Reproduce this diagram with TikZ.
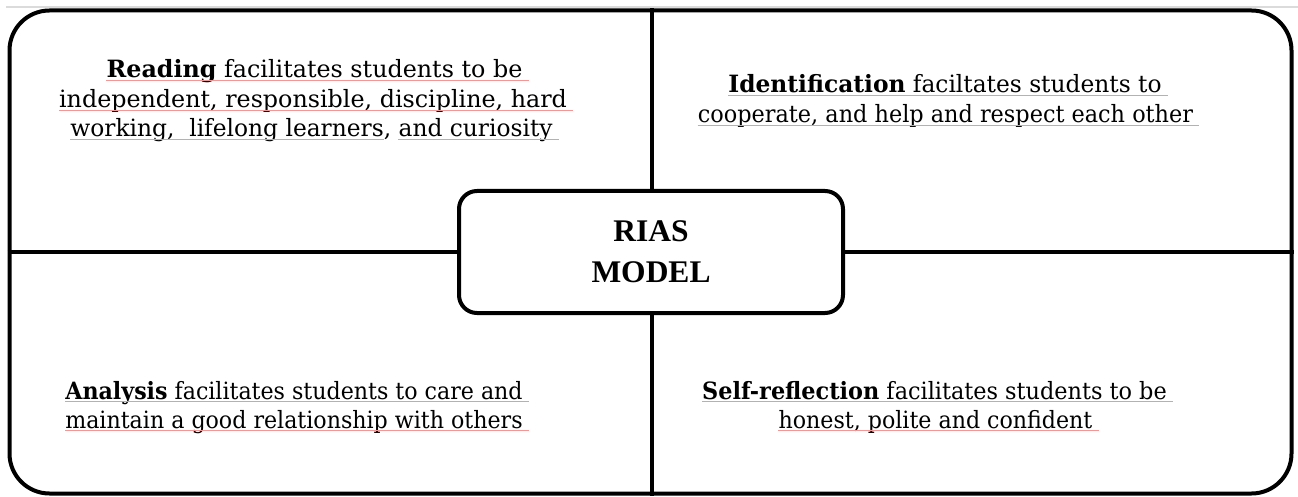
\documentclass[tikz,border=0pt]{standalone}
\usepackage{graphicx}
\usepackage{fontspec}
\setmainfont{DejaVu Serif}
\newfontfamily\timesfam{Liberation Serif}
\definecolor{spellred}{RGB}{242,150,150}
\newcommand\bodyfont{\fontsize{23.8}{28}\selectfont}
\newcommand\hs[2]{\scalebox{#1}[1]{#2}}
\newlength\wpartA
\newlength\wpartB
\begin{document}
\settowidth\wpartA{\bodyfont working,\ \ lifelong learners}
\settowidth\wpartB{\bodyfont working,\ \ lifelong learners, }
\setlength\wpartA{0.98\wpartA}
\setlength\wpartB{0.98\wpartB}
\begin{tikzpicture}[x=1pt,y=-1pt,
  ln/.style={line width=4pt},
  spell/.style={draw=spellred,line width=1.2pt},
  txt/.style={anchor=base,inner sep=0pt,font=\bodyfont},
  centerbox/.style={draw,line width=4pt,rounded corners=18pt,fill=white,
    minimum width=384pt,minimum height=122pt,inner sep=0pt,align=center,
    font=\timesfam\bfseries\fontsize{31.5}{41}\selectfont}]
\useasboundingbox (0,0) rectangle (1298,497);
\draw[black!14,line width=1.5pt] (6,7) -- (1298,7);
\node[draw,line width=4pt,rounded corners=40pt,minimum width=1282pt,minimum height=483pt,inner sep=0pt] (outer) at (650.5,252) {};
\coordinate (mid) at (652,252);
\draw[ln] (outer.north -| mid) -- (outer.south -| mid);
\draw[ln] (outer.west |- mid) -- (outer.east |- mid);
\node[centerbox] (rias) at (651,252) {RIAS\\MODEL};
% spelling underlines are drawn after the text nodes
% Reading
\node[txt] (r1) at (314.5,78) {\textbf{Reading} facilitates students to be};
\node[txt] (r2) at (313,108) {independent, responsible, discipline, hard};
\node[txt] (r3) at (311.5,137) {\hs{0.98}{working,\ \ lifelong learners, and curiosity}};
% Identification
\node[txt] (i1) at (945,93) {\hs{0.98}{\textbf{Identification} faciltates students to}};
\node[txt] (i2) at (945.5,123) {\hs{0.94}{cooperate, and help and respect each other}};
% Analysis
\node[txt] (a1) at (294,399) {\hs{0.93}{\textbf{Analysis} facilitates students to care and}};
\node[txt] (a2) at (294,428) {\hs{0.93}{maintain a good relationship with others}};
% Self-reflection
\node[txt] (s1) at (934.5,399) {\hs{0.94}{\textbf{Self-reflection} facilitates students to be}};
\node[txt] (s2) at (935.5,428) {\hs{0.93}{honest, polite and confident}};
\foreach \n in {r1,r2,i1,i2,a1,a2,s1,s2}
  \draw[spell] ([yshift=-2.5pt]\n.base west) -- ([yshift=-2.5pt,xshift=6pt]\n.base east);
\draw[spell] ([yshift=-2.5pt]r3.base west) -- ([yshift=-2.5pt,xshift=\wpartA]r3.base west);
\draw[spell] ([yshift=-2.5pt,xshift=\wpartB]r3.base west) -- ([yshift=-2.5pt,xshift=6pt]r3.base east);
\end{tikzpicture}
\end{document}
